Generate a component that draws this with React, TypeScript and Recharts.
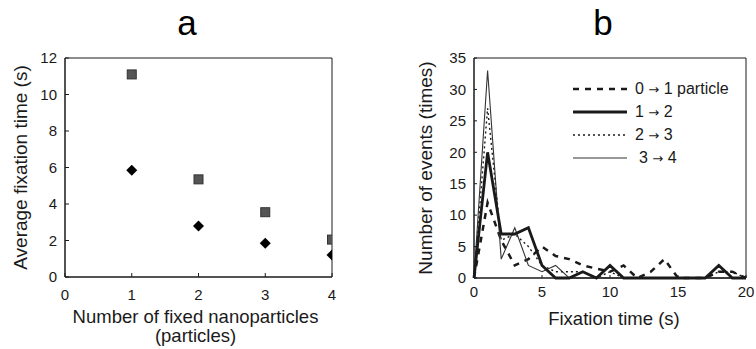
import React from 'react';
import {
    ScatterChart,
    Scatter,
    LineChart,
    Line,
    XAxis,
    YAxis,
    ReferenceArea
} from 'recharts';

// panel a: average fixation time vs number of fixed nanoparticles
const particleCounts = [1, 2, 3, 4];
const squareTimes = [11.1, 5.35, 3.55, 2.05];
const diamondTimes = [5.85, 2.8, 1.85, 1.2];
const aXTicks = [0, 1, 2, 3, 4];
const aYTicks = [0, 2, 4, 6, 8, 10, 12];

// panel b: histogram of fixation times
const fixationSeconds = [0, 1, 2, 3, 4, 5, 6, 7, 8, 9, 10, 11, 12, 13, 14, 15, 16, 17, 18, 19, 20];
const events0to1 = [0, 12, 6, 2, 3, 5, 3.5, 3, 2, 1.5, 1, 2, 0, 1, 3, 0, 0, 0, 1, 1, 0];
const events1to2 = [0, 20, 7, 7, 8, 2, 0, 0, 1, 0, 2, 0, 0, 0, 0, 0, 0, 0, 2, 0, 0];
const events2to3 = [0, 27, 6, 7, 5, 2, 1, 1, 1, 0, 1, 0, 0, 0, 0, 0, 0, 0, 1, 1, 0];
const events3to4 = [0, 33, 3, 8, 2, 1, 2, 0, 0, 0, 0, 0, 0, 0, 0, 0, 0, 0, 0, 0, 0];
const bXTicks = [0, 5, 10, 15, 20];
const bYTicks = [0, 5, 10, 15, 20, 25, 30, 35];

const FONT = '"Liberation Sans", Arial, sans-serif';
const INK = '#1a1a1a';

const squareData = particleCounts.map((n, i) => ({ x: n, y: squareTimes[i] }));
const diamondData = particleCounts.map((n, i) => ({ x: n, y: diamondTimes[i] }));
const histData = fixationSeconds.map((t, i) => ({
    t,
    a: events0to1[i],
    b: events1to2[i],
    c: events2to3[i],
    d: events3to4[i]
}));

const legendItems = [
    { from: '0', to: '1 particle', width: 2.5, dash: '6 6', color: INK },
    { from: '1', to: '2', width: 2.8, dash: undefined, color: INK },
    { from: '2', to: '3', width: 1.4, dash: '2 3', color: INK },
    { from: '3', to: '4', width: 1.2, dash: undefined, color: '#333' }
];

const SquareShape = (props: any) => {
    const { cx, cy } = props;
    return <rect x={cx - 4.5} y={cy - 4.5} width={9} height={9} fill="#555" stroke="#333" strokeWidth={1} />;
};

const DiamondShape = (props: any) => {
    const { cx, cy } = props;
    const r = 5.5;
    return <polygon points={`${cx},${cy - r} ${cx + r},${cy} ${cx},${cy + r} ${cx - r},${cy}`} fill="#000" />;
};

const tickStyle = { fill: INK, fontSize: 15, fontFamily: FONT };

const yTitle = (text: string, dx: number) => (props: any) => {
    const { viewBox } = props;
    const x = viewBox.x + dx;
    const y = viewBox.y + viewBox.height / 2;
    return (
        <text x={x} y={y} transform={`rotate(-90 ${x} ${y})`} textAnchor="middle" dominantBaseline="central"
            fill={INK} fontSize={19} fontFamily={FONT}>
            {text}
        </text>
    );
};

const xTitle = (lines: string[], firstBaseline: number, dx: number) => (props: any) => {
    const { viewBox } = props;
    const x = viewBox.x + viewBox.width / 2 + dx;
    return (
        <text textAnchor="middle" fill={INK} fontSize={18.5} fontFamily={FONT}>
            {lines.map((l, i) => (
                <tspan key={i} x={x} y={viewBox.y + firstBaseline + i * 19}>{l}</tspan>
            ))}
        </text>
    );
};

const HistLegend = () => (
    <div style={{ position: 'absolute', left: 573, top: 77, fontFamily: FONT, fontSize: 16, color: INK }}>
        {legendItems.map((it, i) => (
            <div key={i} style={{ display: 'flex', alignItems: 'center', height: 23 }}>
                <svg width={58} height={10} style={{ marginRight: 4 }}>
                    <line x1={0} y1={5} x2={54} y2={5} stroke={it.color} strokeWidth={it.width} strokeDasharray={it.dash} />
                </svg>
                <span style={{ marginLeft: i === 3 ? 4 : 0 }}>
                    {it.from} <span style={{ fontFamily: '"DejaVu Sans", sans-serif', fontSize: 13 }}>{'\u2192'}</span> {it.to}
                </span>
            </div>
        ))}
    </div>
);

const Title = ({ text, left }: { text: string; left: number }) => (
    <div style={{ position: 'absolute', left: left - 30, width: 60, top: 3, textAlign: 'center', fontFamily: FONT, fontSize: 35, color: '#000' }}>
        {text}
    </div>
);

export default function App() {
    return (
        <div style={{ position: 'absolute', left: 0, top: 0, width: 756, height: 349, background: '#fff' }}>
            <Title text="a" left={187} />
            <Title text="b" left={603} />

            <div style={{ position: 'absolute', left: 0, top: 0 }}>
                <ScatterChart width={378} height={349} margin={{ top: 58, right: 46, bottom: 0, left: 35 }}>
                    <XAxis
                        type="number"
                        dataKey="x"
                        domain={[0, 4]}
                        ticks={aXTicks}
                        allowDataOverflow
                        height={72}
                        stroke={INK}
                        tick={tickStyle}
                        tickSize={-4}
                        tickMargin={16}
                        label={{ content: xTitle(['Number of fixed nanoparticles', '(particles)'], 46, -3) }}
                    />
                    <YAxis
                        type="number"
                        dataKey="y"
                        domain={[0, 12]}
                        ticks={aYTicks}
                        width={30}
                        stroke={INK}
                        tick={tickStyle}
                        tickSize={-4}
                        tickMargin={12}
                        label={{ content: yTitle('Average fixation time (s)', -15) }}
                    />
                    <ReferenceArea x1={0} x2={4} y1={0} y2={12} fill="none" stroke={INK} strokeWidth={1} />
                    <Scatter data={squareData} shape={SquareShape} isAnimationActive={false} />
                    <Scatter data={diamondData} shape={DiamondShape} isAnimationActive={false} />
                </ScatterChart>
            </div>

            <div style={{ position: 'absolute', left: 378, top: 0 }}>
                <LineChart width={378} height={349} data={histData} margin={{ top: 58, right: 10, bottom: 0, left: 56 }}>
                    <XAxis
                        type="number"
                        dataKey="t"
                        domain={[0, 20]}
                        ticks={bXTicks}
                        height={71}
                        stroke={INK}
                        tick={tickStyle}
                        tickSize={-3}
                        tickMargin={11}
                        label={{ content: xTitle(['Fixation time (s)'], 47, 4) }}
                    />
                    <YAxis
                        type="number"
                        domain={[0, 35]}
                        ticks={bYTicks}
                        width={40}
                        stroke={INK}
                        tick={tickStyle}
                        tickSize={-3}
                        tickMargin={11}
                        label={{ content: yTitle('Number of events (times)', -9) }}
                    />
                    <ReferenceArea x1={0} x2={20} y1={0} y2={35} fill="none" stroke={INK} strokeWidth={1} />
                    <Line type="linear" dataKey="a" stroke={INK} strokeWidth={2.5} strokeDasharray="6 6" dot={false} isAnimationActive={false} />
                    <Line type="linear" dataKey="c" stroke={INK} strokeWidth={1.4} strokeDasharray="2 3" dot={false} isAnimationActive={false} />
                    <Line type="linear" dataKey="d" stroke="#333" strokeWidth={1.1} dot={false} isAnimationActive={false} />
                    <Line type="linear" dataKey="b" stroke={INK} strokeWidth={2.8} dot={false} isAnimationActive={false} />
                </LineChart>
            </div>

            <HistLegend />
        </div>
    );
}
